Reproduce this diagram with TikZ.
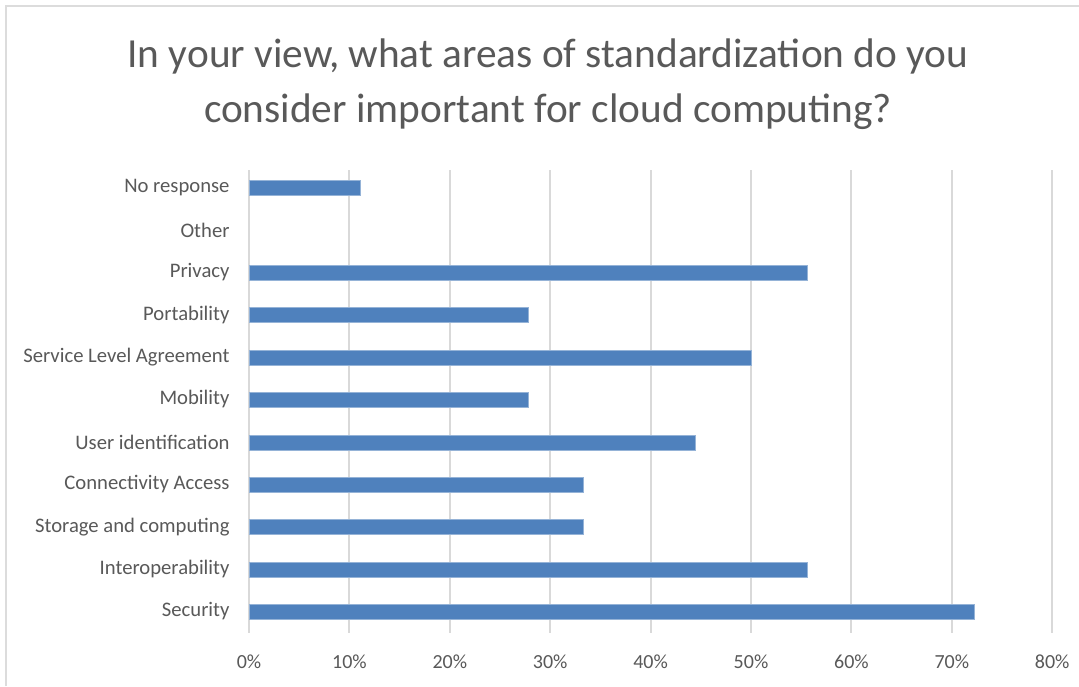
\documentclass[tikz,border=0pt]{standalone}
\usepackage{fontspec}
\setmainfont{Carlito}
\definecolor{barblue}{RGB}{79,129,189}
\definecolor{gridgray}{RGB}{217,217,217}
\definecolor{textgray}{RGB}{89,89,89}
\definecolor{framegray}{RGB}{220,220,220}
\tikzset{every picture/.style={line width=0.75pt}}

\begin{document}
\begin{tikzpicture}[x=0.75pt,y=0.75pt,yscale=-1,xscale=1,
  catlabel/.style={anchor=east,inner sep=0.75pt,font=\fontsize{15.5}{17}\selectfont,text=textgray},
  ticklabel/.style={anchor=center,inner sep=0.75pt,font=\fontsize{15}{17}\selectfont,text=textgray},
  bar/.style={fill=barblue,draw=barblue!60!white,line width=0.4pt}]
\useasboundingbox (0,0) rectangle (1079,686);
\fill[white] (0,0) rectangle (1079,686);

%Frame
\draw [color=framegray,line width=2pt] (6,686) -- (6,6) -- (1079,6) ;

%Gridlines and tick labels
\foreach \p [count=\i from 0] in {0,10,20,30,40,50,60,70,80} {
  \draw [color=gridgray,line width=1.5pt] (249+100.4*\i,170) -- (249+100.4*\i,633) ;
  \draw (249+100.4*\i,662) node [ticklabel] (tick\i) {\p\%};
}

%Bars
\foreach \v [count=\i from 0] in {11.1,0,55.6,27.8,50,27.8,44.4,33.3,33.3,55.6,72.2} {
  \ifdim \v pt>0pt
    \draw [bar] (249,188+42.4*\i-7.5) rectangle (249+10.04*\v,188+42.4*\i+7.5) ;
  \fi
}

% Text Node
\draw (231,188) node [catlabel] (noresp) {No response};
% Text Node
\draw (231,230) node [catlabel] (other) {Other};
% Text Node
\draw (231,272) node [catlabel] (privacy) {Privacy};
% Text Node
\draw (231,315) node [catlabel] (portab) {Portability};
% Text Node
\draw (231,357) node [catlabel] (sla) {Service Level Agreement};
% Text Node
\draw (231,399) node [catlabel] (mobil) {Mobility};
% Text Node
\draw (231,442) node [catlabel] (userid) {User identification};
% Text Node
\draw (231,484) node [catlabel] (connect) {Connectivity Access};
% Text Node
\draw (231,527) node [catlabel] (storage) {Storage and computing};
% Text Node
\draw (231,569) node [catlabel] (interop) {Interoperability};
% Text Node
\draw (231,611) node [catlabel] (secur) {Security};

% Title
\draw (548,84) node [anchor=center,inner sep=0.75pt,align=center,text=textgray,font=\fontsize{31}{41}\selectfont] (title) {In your view, what areas of standardization do you\\consider important for cloud computing?};

\end{tikzpicture}
\end{document}
